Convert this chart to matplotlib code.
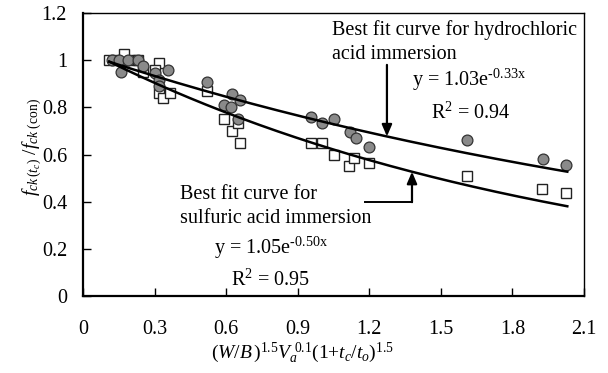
import numpy as np
import matplotlib
matplotlib.use("Agg")
import matplotlib.pyplot as plt

plt.rcParams["font.family"] = ["Liberation Serif", "DejaVu Serif"]
plt.rcParams["mathtext.fontset"] = "custom"
plt.rcParams["mathtext.rm"] = "Liberation Serif"
plt.rcParams["mathtext.it"] = "Liberation Serif:italic"
plt.rcParams["mathtext.bf"] = "Liberation Serif:bold"

# Hydrochloric acid immersion (grey circles)
hcl_x = [0.12, 0.15, 0.19, 0.23, 0.16, 0.25, 0.30, 0.32, 0.32, 0.357,
         0.52, 0.59, 0.625, 0.62, 0.66, 0.65, 0.955, 1.00, 1.05,
         1.12, 1.143, 1.20, 1.61, 1.93, 2.025]
hcl_y = [1.00, 1.00, 1.00, 1.00, 0.95, 0.975, 0.945, 0.915, 0.89, 0.96,
         0.907, 0.81, 0.855, 0.80, 0.83, 0.75, 0.76, 0.735, 0.75,
         0.695, 0.67, 0.63, 0.66, 0.58, 0.555]

# Sulfuric acid immersion (open squares)
h2so4_x = [0.11, 0.14, 0.17, 0.20, 0.23, 0.17, 0.25, 0.32, 0.30, 0.32,
           0.335, 0.365, 0.52, 0.59, 0.625, 0.65, 0.66, 0.955, 1.00,
           1.05, 1.115, 1.135, 1.20, 1.61, 1.925, 2.025]
h2so4_y = [1.00, 1.00, 1.00, 1.00, 1.00, 1.025, 0.95, 0.99, 0.96, 0.86,
           0.84, 0.86, 0.87, 0.75, 0.70, 0.735, 0.65, 0.65, 0.65,
           0.60, 0.55, 0.585, 0.565, 0.51, 0.455, 0.435]

# Exponential fits y = a * exp(b * x)
hcl_a, hcl_b, hcl_r2 = 1.03, -0.33, 0.94
h2so4_a, h2so4_b, h2so4_r2 = 1.05, -0.50, 0.95
fit_x_range = (0.11, 2.03)

x_ticks = [0, 0.3, 0.6, 0.9, 1.2, 1.5, 1.8, 2.1]
x_tick_labels = ["0", "0.3", "0.6", "0.9", "1.2", "1.5", "1.8", "2.1"]
y_ticks = [0, 0.2, 0.4, 0.6, 0.8, 1.0, 1.2]
y_tick_labels = ["0", "0.2", "0.4", "0.6", "0.8", "1", "1.2"]


def fit_label(a, b):
    # plain text with a superscript exponent that keeps a hyphen sign
    exp_txt = ("%.2f" % b).replace("-", r"\text{-}")
    return r"y = %.2fe$^{\mathregular{%sx}}$" % (a, exp_txt)


def r2_label(r2):
    return r"R$^{\mathregular{2}}$ = %.2f" % r2


W, H = 608, 373
fig = plt.figure(figsize=(W / 100, H / 100), dpi=100)
ax = fig.add_axes([83 / W, 1 - 296 / H, (584 - 83) / W, (296 - 13) / H])

ax.plot(h2so4_x, h2so4_y, linestyle="none", marker="s", markersize=7,
        markerfacecolor="white", markeredgecolor="#222222",
        markeredgewidth=1.0, zorder=3)
ax.plot(hcl_x, hcl_y, linestyle="none", marker="o", markersize=7.8,
        markerfacecolor="#8a8a8a", markeredgecolor="#333333",
        markeredgewidth=0.9, zorder=4)

xf = np.linspace(*fit_x_range, 200)
ax.plot(xf, hcl_a * np.exp(hcl_b * xf), color="black", lw=1.8, zorder=5)
ax.plot(xf, h2so4_a * np.exp(h2so4_b * xf), color="black", lw=1.8, zorder=5)

ax.set_xlim(0, 2.1)
ax.set_ylim(0, 1.2)
ax.set_xticks(x_ticks)
ax.set_xticklabels(x_tick_labels)
ax.set_yticks(y_ticks)
ax.set_yticklabels(y_tick_labels)
ax.tick_params(axis="both", direction="in", length=6, width=1.0,
               labelsize=14.5, colors="black")
ax.tick_params(axis="x", pad=17)
ax.tick_params(axis="y", pad=11.5)
for s in ax.spines.values():
    s.set_linewidth(1.0)
    s.set_color("black")
ax.spines["left"].set_linewidth(1.6)
ax.spines["bottom"].set_linewidth(1.6)

fs = 14.5
arrow_style = dict(arrowstyle="-|>,head_length=0.7,head_width=0.3",
                   color="black", lw=1.6, shrinkA=0, shrinkB=0)

# Hydrochloric annotation
ax.text(1.045, 1.078, "Best fit curve for hydrochloric\nacid immersion",
        fontsize=fs, ha="left", va="center", linespacing=1.35)
ax.annotate("", xy=(1.274, hcl_a * np.exp(hcl_b * 1.274)), xytext=(1.274, 0.98),
            arrowprops=arrow_style)
ax.text(1.62, 0.915, fit_label(hcl_a, hcl_b),
        fontsize=fs, ha="center", va="center")
ax.text(1.626, 0.775, r2_label(hcl_r2),
        fontsize=fs, ha="center", va="center")

# Sulfuric annotation
ax.text(0.407, 0.381, "Best fit curve for\nsulfuric acid immersion",
        fontsize=fs, ha="left", va="center", linespacing=1.35)
ax.plot([1.18, 1.379], [0.398, 0.398], color="black", lw=1.4)
ax.annotate("", xy=(1.379, h2so4_a * np.exp(h2so4_b * 1.379)), xytext=(1.379, 0.398),
            arrowprops=arrow_style)
ax.text(0.79, 0.203, fit_label(h2so4_a, h2so4_b),
        fontsize=fs, ha="center", va="center")
ax.text(0.785, 0.068, r2_label(h2so4_r2),
        fontsize=fs, ha="center", va="center")

fig.text(303 / W, 1 - 353 / H,
         r"$(W/B\,)^{\mathregular{1.5}}V_{a}^{\ \mathregular{0.1}}"
         r"\mathregular{(1{+}}t_{c}/t_{o}\mathregular{)}^{\mathregular{1.5}}$",
         fontsize=14, ha="center", va="center")
fig.text(32 / W, 1 - 147 / H,
         r"$f_{ck\,(t_c)}\ /f_{ck\ \mathregular{(con)}}$",
         fontsize=14, ha="center", va="center", rotation=90)

fig.savefig("out.png", dpi=100, facecolor="white")
